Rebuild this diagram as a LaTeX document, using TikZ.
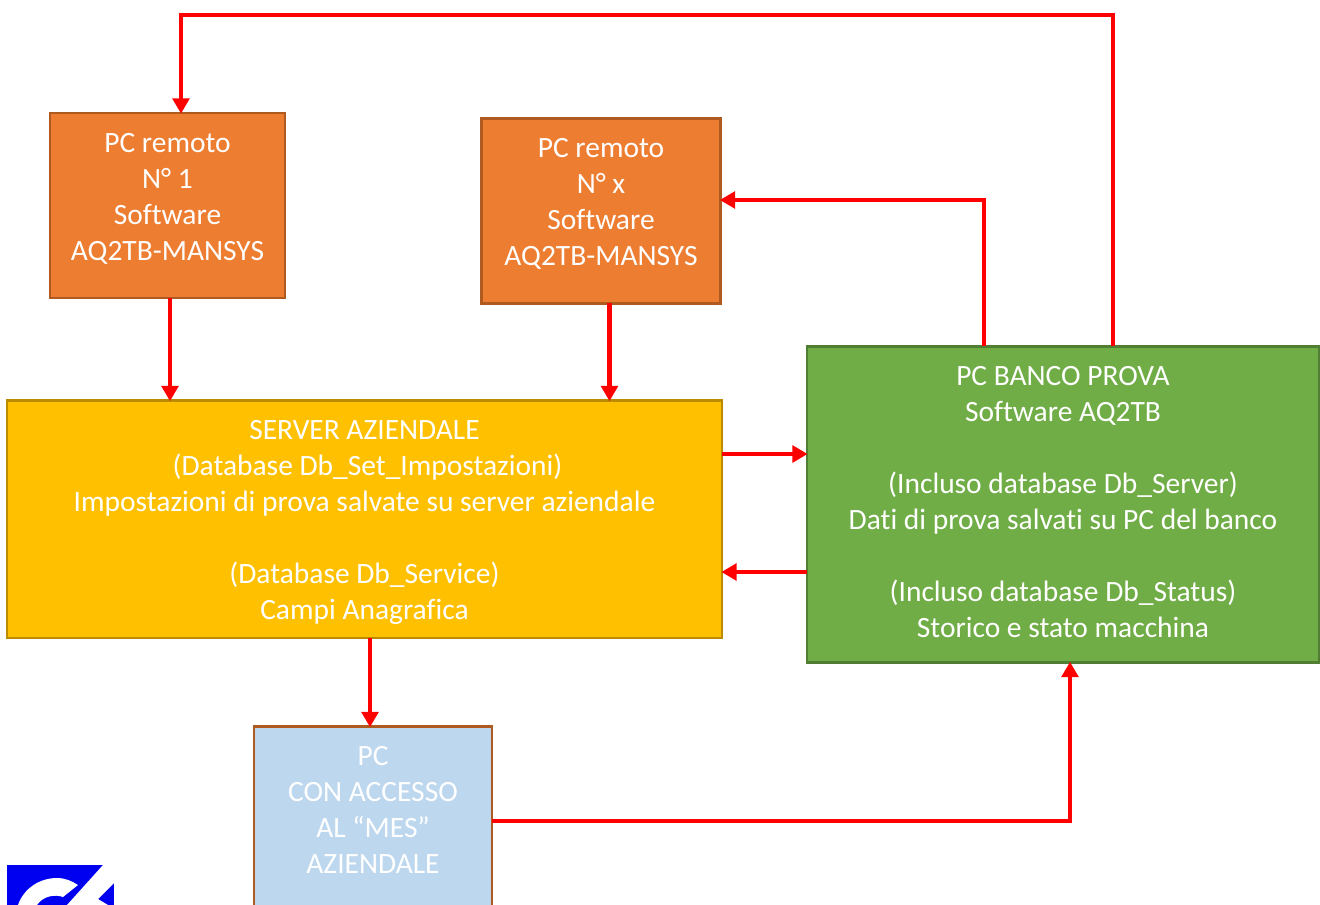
\documentclass[tikz,border=0pt]{standalone}
\usepackage{fontspec}
\setmainfont{Carlito}[Ligatures=NoCommon]
\usetikzlibrary{arrows.meta,calc}
\definecolor{orangefill}{HTML}{ED7D31}
\definecolor{orangeline}{HTML}{AE5A21}
\definecolor{yellowfill}{HTML}{FFC000}
\definecolor{yellowline}{HTML}{BC8C00}
\definecolor{greenfill}{HTML}{70AD47}
\definecolor{greenline}{HTML}{507E32}
\definecolor{bluefill}{HTML}{BDD7EE}
\definecolor{logoblue}{HTML}{0000F0}
\tikzset{
  x=0.75pt,y=-0.75pt,
  boxnode/.style={draw,line width=2.2pt,text=white,align=center,inner sep=0pt,outer sep=0pt,
    font=\fontsize{22.1pt}{27pt}\selectfont,anchor=north west},
  flow/.style={draw=red,line width=3.5pt,-{Triangle[length=11.5pt,width=12.5pt]},shorten >=-0.5pt},
}
\newcommand{\boxat}[7]{%
  \node[boxnode,fill=#2,draw=#3,minimum width=#6*0.75pt,minimum height=#7*0.75pt] (#1) at (#4,#5)}
\newcommand{\lowstrut}[1]{\rule[-#1]{0pt}{#1}}
\newcommand{\highstrut}[1]{\rule{0pt}{#1}}
\begin{document}
\begin{tikzpicture}
\clip (0,0) rectangle (1320,905);
\useasboundingbox (0,0) rectangle (1320,905);
\boxat{pcone}{orangefill}{orangeline}{50}{113}{235}{185} {PC remoto\\N° 1\\Software\\AQ2TB-MANSYS\lowstrut{12.8pt}};
\boxat{pcx}{orangefill}{orangeline}{481.5}{118.5}{239}{185} {PC remoto\\N° x\\Software\\AQ2TB-MANSYS\lowstrut{14.3pt}};
\boxat{server}{yellowfill}{yellowline}{7}{400.5}{715}{237.5} {\highstrut{19.5pt}SERVER AZIENDALE\\\hspace*{4.5pt}(Database Db\_Set\_Impostazioni)\\Impostazioni di prova salvate su server aziendale\\[27pt](Database Db\_Service)\\Campi Anagrafica};
\boxat{banco}{greenfill}{greenline}{807}{346.5}{512}{316} {PC BANCO PROVA\\Software AQ2TB\\[27pt](Incluso database Db\_Server)\\Dati di prova salvati su PC del banco\\[27pt](Incluso database Db\_Status)\\Storico e stato macchina\lowstrut{4.5pt}};
\boxat{mes}{bluefill}{orangeline}{254}{726.5}{238}{204} {PC\\CON ACCESSO\\AL “MES”\\AZIENDALE\\ ~\lowstrut{1.5pt}};
% connectors
\coordinate (topleft) at (181,15);
\coordinate (topright) at (1113,15);
\coordinate (midcorner) at (984,200);
\coordinate (mescorner) at (1070,821);
\coordinate (onedown) at (170,0);
\coordinate (xdown) at (609.5,0);
\draw[flow] (topright |- banco.north) -- (topright) -- (topleft) -- (topleft |- pcone.north);
\draw[flow] (midcorner |- banco.north) -- (midcorner) -- (midcorner -| pcx.east);
\draw[flow] (onedown |- pcone.south) -- (onedown |- server.north);
\draw[flow] (xdown |- pcx.south) -- (xdown |- server.north);
\coordinate (cdhigh) at (0,454);
\coordinate (cdlow) at (0,572);
\draw[flow] (cdhigh -| server.east) -- (cdhigh -| banco.west);
\draw[flow] (cdlow -| banco.west) -- (cdlow -| server.east);
\coordinate (servdown) at (370,0);
\draw[flow] (servdown |- server.south) -- (servdown |- mes.north);
\draw[flow] (mescorner -| mes.east) -- (mescorner) -- (mescorner |- banco.south);
% logo
\fill[logoblue] (7,865) rectangle (114,905);
\fill[white] (103,865) -- (114,865) -- (114,883) -- (98,899) -- (108,905) -- (67,905) -- cycle;
\fill[white] (18,905) .. controls (24,888) and (40,878) .. (57,878) .. controls (65,878) and (72,881) .. (78,885) -- (63,897) .. controls (55,894) and (43,896) .. (37,905) -- cycle;
\end{tikzpicture}
\end{document}
